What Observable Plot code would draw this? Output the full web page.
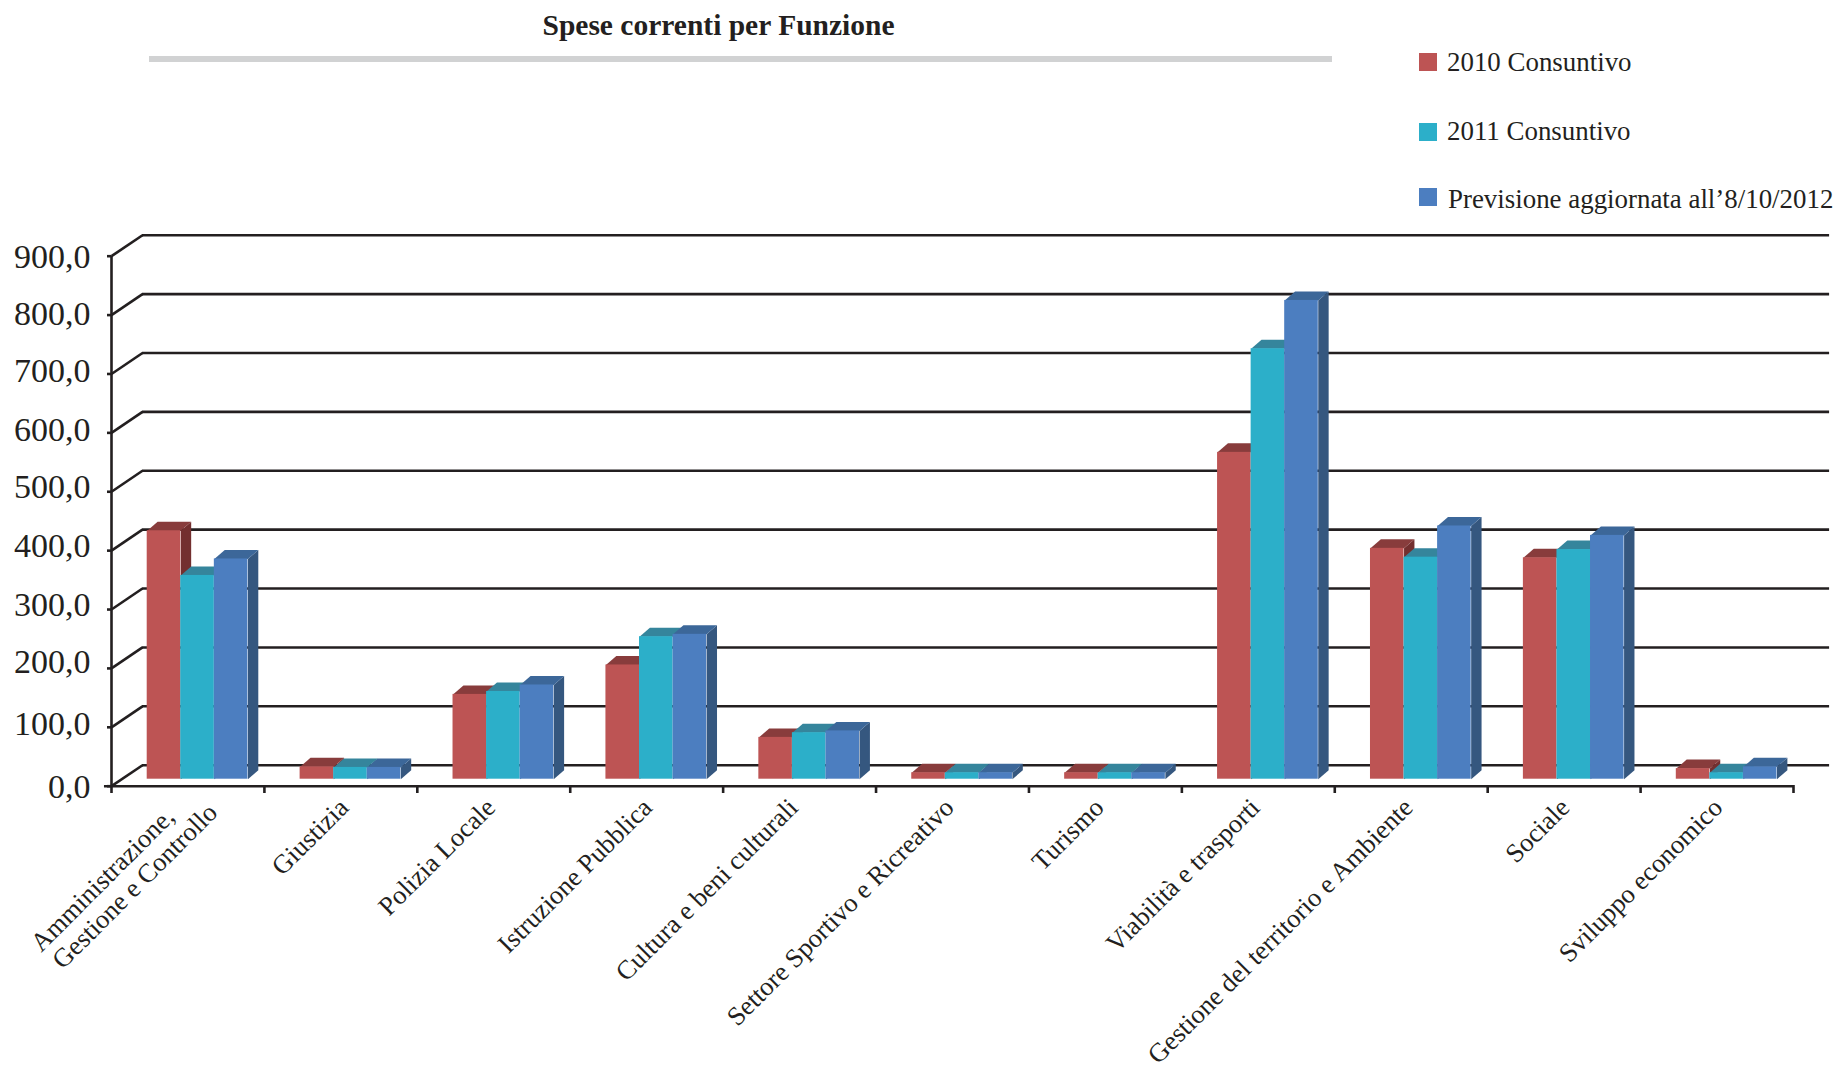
<!DOCTYPE html>
<html lang="it">
<head>
<meta charset="utf-8">
<title>Spese correnti per Funzione</title>
<script src="https://cdn.jsdelivr.net/npm/d3@7"></script>
<script src="https://cdn.jsdelivr.net/npm/@observablehq/plot@0.6"></script>
<style>
  html, body { margin: 0; padding: 0; background: #fff; }
  body { width: 1836px; height: 1071px; overflow: hidden; font-family: "Liberation Serif", serif; color: #231f20; }
  #header { position: relative; height: 220px; }
  #title { position: absolute; left: 0; width: 1437px; top: 7px; text-align: center; font-size: 29.5px; font-weight: bold; line-height: 36px; }
  #rule { position: absolute; left: 149px; top: 56px; width: 1183px; height: 6px; background: #d1d2d3; }
  .swatch { position: absolute; left: 1419px; width: 18px; height: 18px; }
  .key { position: absolute; font-size: 26.9px; line-height: 30px; white-space: nowrap; }
  #chart svg { display: block; }
</style>
</head>
<body>
<div id="header">
  <div id="title">Spese correnti per Funzione</div>
  <div id="rule"></div>
  <div id="legend"></div>
</div>
<div id="chart"></div>
<script>
// Spending by function, in three series per category.
const categories = [
  "Amministrazione,\nGestione e Controllo",
  "Giustizia",
  "Polizia Locale",
  "Istruzione Pubblica",
  "Cultura e beni culturali",
  "Settore Sportivo e Ricreativo",
  "Turismo",
  "Viabilità e trasporti",
  "Gestione del territorio e Ambiente",
  "Sociale",
  "Sviluppo economico"
];
const seriesNames = ["2010 Consuntivo", "2011 Consuntivo", "Previsione aggiornata all’8/10/2012"];
const consuntivo2010 = [422, 21, 144, 194, 71, 11, 11, 555, 392, 376, 18];
const consuntivo2011 = [346, 20, 149, 242, 79, 11, 11, 731, 377, 390, 11];
const previsione2012 = [374, 20, 160, 246, 82, 11, 11, 813, 430, 414, 21];
const seriesValues = [consuntivo2010, consuntivo2011, previsione2012];
const yTicks = [0, 100, 200, 300, 400, 500, 600, 700, 800, 900];

const frontColors = ["#bd5454", "#2cafc9", "#4c7ec0"];
const topColors = ["#883c3c", "#35859c", "#3c6799"];
const sideColors = ["#732f2f", "#267f93", "#35577f"];
const ink = "#231f20";

// Layout of the pseudo-3D box, in data units of the x and y scales.
const wallDepthX = 0.2027;
const wallDepthY = 35.65;
const wallEnd = 11.236;
const barInset = 0.2335;
const barWidth = 0.2195;
const barDepthX = 0.068;
const barDepthY = 15.3;
const barLift = -7;

// Hand-placed label offsets: y-axis labels in y units, category labels in x units.
const yLabelShift = [-2, 5, 10, 7, 7, 8, 5, 5, 2, -2];
const xLabelShift = [0, 0.04, 0, 0.026, -0.02, 0, -0.02, 0, 0, 0.026, 0.026];

const rows = seriesValues.flatMap((values, s) => values.map((value, c) => ({
  s, c, value,
  x1: c + barInset + s * barWidth,
  x2: c + barInset + (s + 1) * barWidth
})));

// The top and right faces of a bar are closed polygons derived from its value.
function topFace(d) {
  return [
    {id: `t${d.c}`, x: d.x1, y: d.value},
    {id: `t${d.c}`, x: d.x2, y: d.value},
    {id: `t${d.c}`, x: d.x2 + barDepthX, y: d.value + barDepthY},
    {id: `t${d.c}`, x: d.x1 + barDepthX, y: d.value + barDepthY}
  ];
}
function sideFace(d) {
  return [
    {id: `s${d.c}`, x: d.x2, y: 0},
    {id: `s${d.c}`, x: d.x2, y: d.value},
    {id: `s${d.c}`, x: d.x2 + barDepthX, y: d.value + barDepthY},
    {id: `s${d.c}`, x: d.x2 + barDepthX, y: barDepthY}
  ];
}

const barMarks = [0, 1, 2].flatMap(s => {
  const own = rows.filter(d => d.s === s);
  return [
    Plot.line(own.flatMap(sideFace), {x: "x", y: "y", z: "id", fill: sideColors[s], stroke: "none", curve: "linear-closed", dy: barLift}),
    Plot.line(own.flatMap(topFace), {x: "x", y: "y", z: "id", fill: topColors[s], stroke: "none", curve: "linear-closed", dy: barLift}),
    Plot.rect(own, {x1: "x1", x2: "x2", y1: 0, y2: "value", fill: frontColors[s], dy: barLift})
  ];
});

const singleLine = categories.map((name, i) => ({name, i})).filter(d => !d.name.includes("\n"));
const [firstLine, secondLine] = categories[0].split("\n");
const labelFont = {fontFamily: "Liberation Serif", fontSize: 26.5, fill: ink, rotate: -45, textAnchor: "end", lineAnchor: "middle"};

const chart = Plot.plot({
  width: 1836,
  height: 851,
  marginTop: 35,
  marginBottom: 286,
  marginLeft: 111,
  marginRight: 43,
  x: {domain: [0, 11], range: [111, 1793]},
  y: {domain: [0, 900], range: [565.7, 35.7]},
  marks: [
    // Back wall: horizontal gridlines joined to the axis by slanted lines.
    Plot.ruleY(yTicks, {y: d => d + wallDepthY, x1: wallDepthX, x2: wallEnd, stroke: ink, strokeWidth: 2.6}),
    Plot.link(yTicks, {x1: 0, y1: d => d, x2: wallDepthX, y2: d => d + wallDepthY, stroke: ink, strokeWidth: 2.6}),
    ...barMarks,
    Plot.ruleX([0], {y1: 0, y2: 900, stroke: ink, strokeWidth: 2.6}),
    Plot.ruleY([0], {x1: -0.046, x2: 11, stroke: ink, strokeWidth: 2.6}),
    Plot.axisY({
      ticks: yTicks,
      tickSize: 4,
      stroke: ink,
      strokeWidth: 2.6,
      label: null,
      tickFormat: () => ""
    }),
    Plot.text(yTicks, {
      x: 0,
      y: (d, i) => d + yLabelShift[i],
      text: d => d.toFixed(1).replace(".", ","),
      dx: -21,
      textAnchor: "end",
      lineAnchor: "middle",
      fill: ink,
      fontFamily: "Liberation Serif",
      fontSize: 34
    }),
    Plot.axisX({
      ticks: d3.range(12),
      tickSize: 8,
      stroke: ink,
      strokeWidth: 2.6,
      label: null,
      tickFormat: () => ""
    }),
    // Slanted category labels; the first one spans two centred lines.
    Plot.text(singleLine, {x: d => d.i + 0.5 + xLabelShift[d.i], y: 0, text: "name", dx: -3, dy: 17, ...labelFont}),
    Plot.text([firstLine], {x: 0.5, y: 0, text: d => d, dx: -18, dy: 26, ...labelFont}),
    Plot.text([secondLine], {x: 0.5, y: 0, text: d => d, dx: 25, dy: 22, ...labelFont})
  ]
});
document.getElementById("chart").append(chart);

// Legend beside the title.
const legend = document.getElementById("legend");
const swatchTops = [53, 123, 188];
const keyTops = [47, 116, 184];
const keyLefts = [1447, 1447, 1448];
seriesNames.forEach((name, i) => {
  const swatch = document.createElement("div");
  swatch.className = "swatch";
  swatch.style.top = swatchTops[i] + "px";
  swatch.style.background = frontColors[i];
  const key = document.createElement("div");
  key.className = "key";
  key.style.top = keyTops[i] + "px";
  key.style.left = keyLefts[i] + "px";
  key.textContent = name;
  legend.append(swatch, key);
});
</script>
</body>
</html>
